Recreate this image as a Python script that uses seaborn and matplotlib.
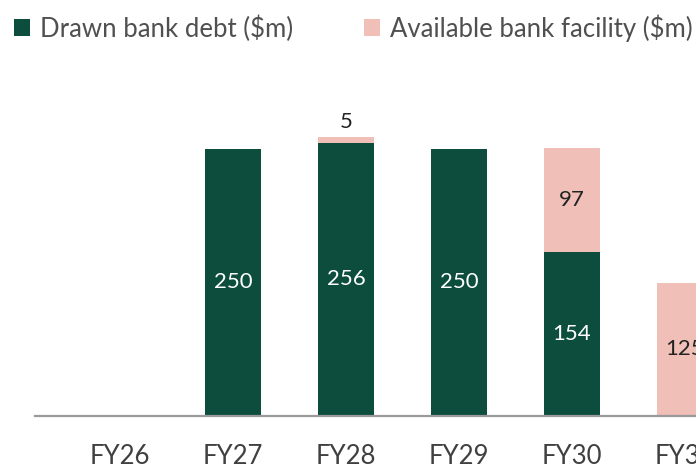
import matplotlib
matplotlib.use("Agg")
import matplotlib.pyplot as plt
from matplotlib.patches import Patch
import seaborn as sns
import pandas as pd

years = ["FY26", "FY27", "FY28", "FY29", "FY30", "FY31"]
drawn = [0, 250, 256, 250, 154, 0]
available = [0, 0, 5, 0, 97, 125]

GREEN = "#0C4D3D"
PINK = "#F0BFB8"

sns.set_theme(style="white")
plt.rcParams['font.family'] = ['Lato', 'DejaVu Sans']
plt.rcParams['font.weight'] = 'normal'

df = pd.DataFrame({"year": years, "drawn": drawn, "available": available})
df["total"] = df["drawn"] + df["available"]

fig = plt.figure(figsize=(6.96, 4.71), dpi=100)
W, H = 696, 471
px_unit = 113.0
x0 = 120.0
left_px = 35
xl = (left_px - x0) / px_unit
xr = (W - x0) / px_unit
base = 416
ytop = 300
top_px = base - ytop * 1.068
ax = fig.add_axes([left_px / W, (H - base) / H, (W - left_px) / W, (base - top_px) / H])

sns.barplot(data=df, x="year", y="total", order=years, color=PINK, width=0.5,
            saturation=1, ax=ax, linewidth=0)
sns.barplot(data=df, x="year", y="drawn", order=years, color=GREEN, width=0.5,
            saturation=1, ax=ax, linewidth=0)

ax.set_xlim(xl, xr)
ax.set_ylim(0, ytop)
for s in ["top", "right", "left"]:
    ax.spines[s].set_visible(False)
ax.spines["bottom"].set_color("#9A9A9A")
ax.spines["bottom"].set_linewidth(1.6)
ax.set_yticks([])
ax.set_xlabel("")
ax.set_ylabel("")
ax.tick_params(axis="x", length=0, pad=20, labelsize=18.5, labelcolor="#404040")

for i, (d, a) in enumerate(zip(drawn, available)):
    if d > 0:
        ax.text(i, d / 2, f"{d}", ha="center", va="center", color="white", fontsize=16)
    if a > 0:
        if a < 20:
            ax.text(i, d + a + 5, f"{a}", ha="center", va="bottom", color="#222222", fontsize=16)
        else:
            ax.text(i, d + a / 2, f"{a}", ha="center", va="center", color="#222222", fontsize=16)

handles = [Patch(facecolor=GREEN, edgecolor="none", label="Drawn bank debt ($m)"),
           Patch(facecolor=PINK, edgecolor="none", label="Available bank facility ($m)")]
fig.legend(handles=handles, loc="upper left", bbox_to_anchor=(0.0, 1.0), ncol=2, frameon=False,
           fontsize=18.5, handlelength=0.62, handleheight=0.62, handletextpad=0.4,
           columnspacing=2.75, labelcolor="#505050", borderaxespad=0.15)

fig.savefig("out.png", dpi=100)
